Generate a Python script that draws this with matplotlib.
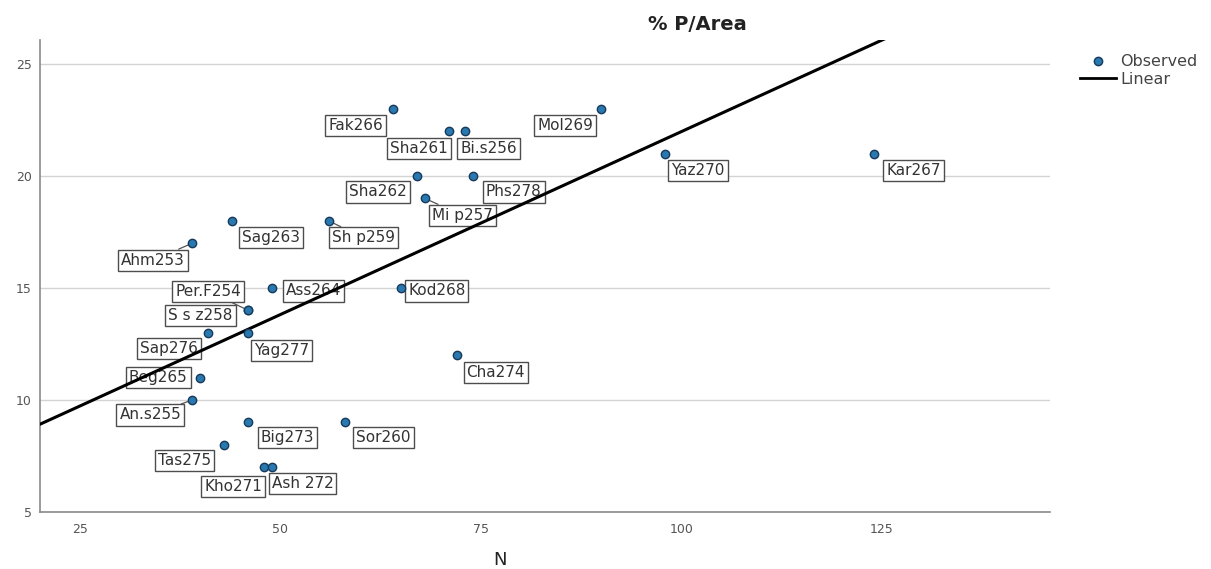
import numpy as np
import matplotlib
matplotlib.use("Agg")
import matplotlib.pyplot as plt
from matplotlib.lines import Line2D

# data
names = ["Fak266", "Mol269", "Sha261", "Bi.s256", "Yaz270", "Kar267",
         "Sha262", "Phs278", "Mi p257", "Sag263", "Sh p259", "Ahm253",
         "Per.F254", "Ass264", "Kod268", "S s z258", "Sap276", "Yag277",
         "Cha274", "Beg265", "An.s255", "Big273", "Sor260", "Tas275",
         "Kho271", "Ash 272"]
n_vals = [64, 90, 71, 73, 98, 124, 67, 74, 68, 44, 56, 39,
          46, 49, 65, 46, 41, 46, 72, 40, 39, 46, 58, 43, 48, 49]
p_area = [23, 23, 22, 22, 21, 21, 20, 20, 19, 18, 18, 17,
          14, 15, 15, 14, 13, 13, 12, 11, 10, 9, 9, 8, 7, 7]

# label offsets in pixels (dx right, dy down) for each point label
offsets = [(-37, 17), (-36, 17), (-30, 17), (24, 17), (33, 17), (40, 17),
           (-39, 16), (41, 16), (38, 17), (39, 17), (35, 17), (-39, 17),
           (-40, -19), (41, 3), (36, 3), (-48, 5), (-39, 16), (33, 18),
           (39, 17), (-42, 0), (-42, 15), (39, 15), (39, 15), (-40, 16),
           (-31, 19), (30, 16)]
# labels that get a visible leader line
leaders = {"Ahm253", "Sh p259", "Mi p257", "An.s255", "Per.F254"}

fig = plt.figure(figsize=(12.11, 5.69), dpi=100)
ax = fig.add_axes([40 / 1211, 1 - 512 / 569, 1010 / 1211, 472 / 569])

x = np.array(n_vals, dtype=float)
y = np.array(p_area, dtype=float)
slope, intercept = np.polyfit(x, y, 1)

xlim = (20, 146)
ylim = (5, 26.07)
xs = np.array(xlim)
ax.plot(xs, slope * xs + intercept, color="black", lw=2.2, zorder=5)

ax.scatter(x, y, s=36, facecolor="#2a78b0", edgecolor="#163a5a",
           linewidth=1.0, zorder=6)

for name, xi, yi, (dx, dy) in zip(names, x, y, offsets):
    arrow = None
    if name in leaders:
        arrow = dict(arrowstyle="-", color="#555555", lw=0.9,
                     shrinkA=0, shrinkB=3)
    ax.annotate(name, (xi, yi), xytext=(dx, -dy), textcoords="offset pixels",
                ha="center", va="center", fontsize=11, color="#333333",
                bbox=dict(boxstyle="square,pad=0.2", fc="white",
                          ec="#4d4d4d", lw=1.0),
                arrowprops=arrow, zorder=3)

ax.set_xlim(*xlim)
ax.set_ylim(*ylim)
ax.set_xticks([25, 50, 75, 100, 125])
ax.set_yticks([5, 10, 15, 20, 25])
ax.tick_params(axis="both", length=0, labelsize=9, colors="#555555", pad=8)
ax.tick_params(axis="y", pad=6)
ax.grid(axis="y", color="#d4d4d4", lw=1)
ax.set_axisbelow(True)
for s in ["top", "right"]:
    ax.spines[s].set_visible(False)
for s in ["left", "bottom"]:
    ax.spines[s].set_color("#8a8a8a")
    ax.spines[s].set_linewidth(1.2)

fig.text(500 / 1211, 1 - 560 / 569, "N", ha="center", va="center",
         fontsize=13, color="#222222")
fig.text(697 / 1211, 1 - 25 / 569, "% P/Area", ha="center", va="center",
         fontsize=14, fontweight="bold", color="#222222")

handles = [Line2D([], [], ls="none", marker="o", markersize=6,
                  markerfacecolor="#2a78b0", markeredgecolor="#163a5a"),
           Line2D([], [], color="black", lw=2)]
fig.legend(handles, ["Observed", "Linear"], loc="upper left",
           bbox_to_anchor=(1066 / 1211, 1 - 40 / 569), frameon=False,
           fontsize=11.5, handlelength=2.2, handletextpad=0.3,
           labelspacing=0.15, labelcolor="#444444")

fig.savefig("out.png", dpi=100)
